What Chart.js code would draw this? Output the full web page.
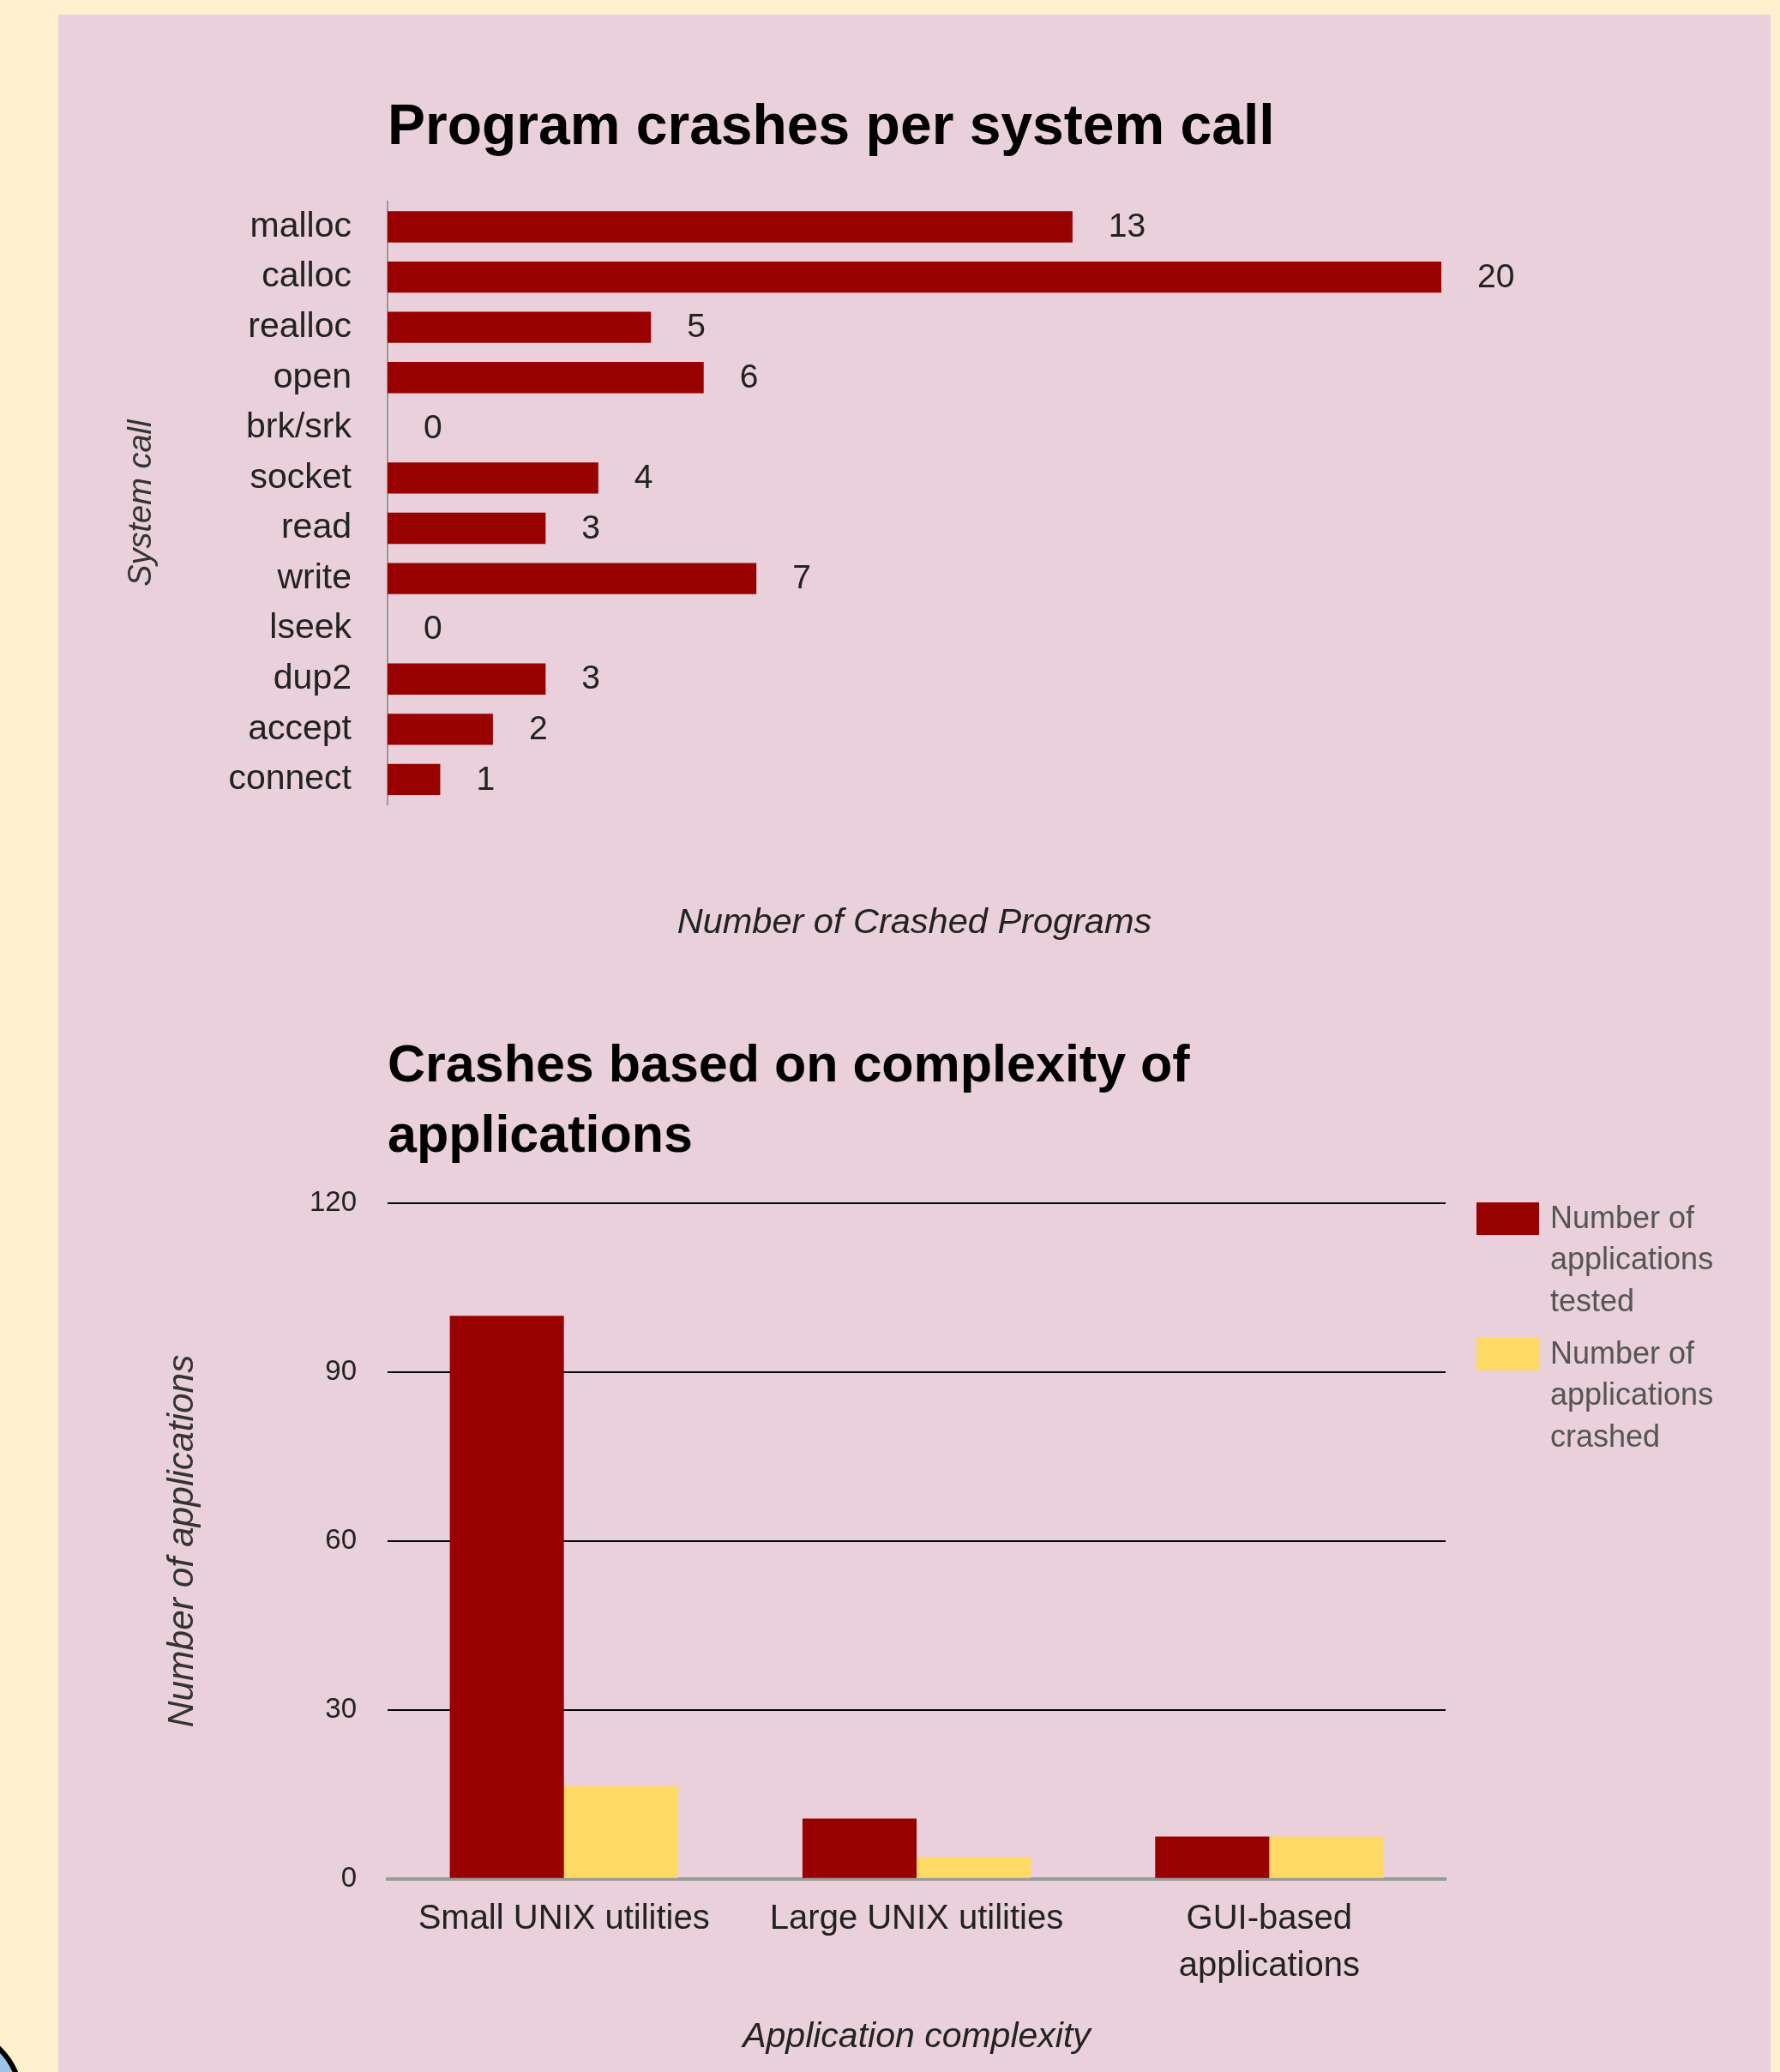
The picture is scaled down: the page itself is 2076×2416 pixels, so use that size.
<!DOCTYPE html>
<html>
<head>
<meta charset="utf-8">
<script src="https://cdn.jsdelivr.net/npm/chart.js@4.4.0/dist/chart.umd.min.js"></script>
<style>
  body { margin: 0; width: 2076px; height: 2416px; overflow: hidden; position: relative; background: #FFF1CE; }
  #panel { position: absolute; left: 68px; top: 17px; width: 1997px; height: 2399px; background: #E9D0DB; }
  #crashChart { position: absolute; left: 0; top: 0; }
  #complexChart { position: absolute; left: 0; top: 1160px; }
  #corner { position: absolute; left: -148px; top: 2362px; width: 176px; height: 176px; box-sizing: border-box;
            border: 6px solid #000; border-radius: 50%; background: #9DC3E6; }
</style>
</head>
<body>
<div id="panel"></div>
<div id="corner"></div>
<canvas id="crashChart" width="2076" height="1160"></canvas>
<canvas id="complexChart" width="2076" height="1256"></canvas>
<script>
// top chart data
const sysCalls = ['malloc', 'calloc', 'realloc', 'open', 'brk/srk', 'socket', 'read', 'write', 'lseek', 'dup2', 'accept', 'connect'];
const crashCounts = [13, 20, 5, 6, 0, 4, 3, 7, 0, 3, 2, 1];

// bottom chart data
const appGroups = [['Small UNIX utilities'], ['Large UNIX utilities'], ['GUI-based', 'applications']];
const seriesNames = ['Number of applications tested', 'Number of applications crashed'];
const testedCounts = [100, 10.7, 7.5];
const crashedCounts = [16.5, 3.9, 7.5];
const yTicks = [0, 30, 60, 90, 120];

const FONT = '"Liberation Sans", Arial, sans-serif';
Chart.defaults.font.family = FONT;
Chart.defaults.color = '#222';

const darkRed = '#990000';
const yellow = '#FFD966';

// value next to each horizontal bar
const barValueLabels = {
  id: 'barValueLabels',
  afterDatasetsDraw(chart) {
    const ctx = chart.ctx;
    const meta = chart.getDatasetMeta(0);
    ctx.save();
    ctx.font = '39px ' + FONT;
    ctx.fillStyle = '#222';
    ctx.textBaseline = 'middle';
    ctx.textAlign = 'left';
    meta.data.forEach(function(bar, i) {
      ctx.fillText(String(chart.data.datasets[0].data[i]), bar.x + 42, bar.y + 1);
    });
    ctx.restore();
  }
};

// legend on the right with wrapped text
const sideLegend = {
  id: 'sideLegend',
  afterDraw(chart) {
    const ctx = chart.ctx;
    const top = chart.chartArea.top - 1;
    const x0 = 1722;
    ctx.save();
    ctx.font = '36px ' + FONT;
    ctx.textBaseline = 'middle';
    ctx.textAlign = 'left';
    chart.data.datasets.forEach(function(ds, i) {
      const y0 = top + i * 158;
      ctx.fillStyle = ds.backgroundColor;
      ctx.fillRect(x0, y0, 73, 38);
      // wrap words
      const words = ds.label.split(' ');
      const lines = [];
      let cur = '';
      words.forEach(function(w) {
        const test = cur ? cur + ' ' + w : w;
        if (ctx.measureText(test).width > 230 && cur) {
          lines.push(cur);
          cur = w;
        } else {
          cur = test;
        }
      });
      lines.push(cur);
      ctx.fillStyle = '#555';
      lines.forEach(function(line, k) {
        ctx.fillText(line, 1808, y0 + 20 + k * 48.5);
      });
    });
    ctx.restore();
  }
};

new Chart(document.getElementById('crashChart'), {
  type: 'bar',
  data: {
    labels: sysCalls,
    datasets: [{
      data: crashCounts,
      backgroundColor: darkRed,
      barPercentage: 0.62,
      categoryPercentage: 1
    }]
  },
  options: {
    indexAxis: 'y',
    responsive: false,
    animation: false,
    layout: { padding: { left: 120, right: 395, top: 0, bottom: 59 } },
    plugins: {
      legend: { display: false },
      tooltip: { enabled: false },
      title: {
        display: true,
        text: 'Program crashes per system call',
        align: 'start',
        fullSize: false,
        color: '#000',
        font: { size: 66, weight: 'bold', lineHeight: 1.2 },
        padding: { top: 110, bottom: 46 }
      }
    },
    scales: {
      x: {
        min: 0,
        max: 20,
        ticks: { display: false },
        grid: { display: false, drawTicks: false },
        border: { display: false },
        title: {
          display: true,
          text: 'Number of Crashed Programs',
          color: '#222',
          font: { size: 41.5, style: 'italic', lineHeight: 1.2 },
          padding: { top: 113, bottom: 0 }
        }
      },
      y: {
        ticks: { color: '#222', font: { size: 41 }, padding: 42 },
        grid: { display: false, drawTicks: false },
        border: { display: true, color: '#9a9a9a', width: 2 },
        title: {
          display: true,
          text: 'System call',
          color: '#333',
          font: { size: 38, style: 'italic', lineHeight: 1.2 },
          padding: { top: 23, bottom: 0 }
        },
        afterFit: function(scale) { scale.width = 332; }
      }
    }
  },
  plugins: [barValueLabels]
});

new Chart(document.getElementById('complexChart'), {
  type: 'bar',
  data: {
    labels: appGroups,
    datasets: [
      { label: seriesNames[0], data: testedCounts, backgroundColor: darkRed, barPercentage: 1, categoryPercentage: 0.647 },
      { label: seriesNames[1], data: crashedCounts, backgroundColor: yellow, barPercentage: 1, categoryPercentage: 0.647 }
    ]
  },
  options: {
    responsive: false,
    animation: false,
    layout: { padding: { left: 170, right: 390, top: 0, bottom: 16 } },
    plugins: {
      legend: { display: false },
      tooltip: { enabled: false },
      title: {
        display: true,
        text: ['Crashes based on complexity of', 'applications'],
        align: 'start',
        fullSize: false,
        color: '#000',
        font: { size: 61, weight: 'bold', lineHeight: '82px' },
        padding: { top: 43, bottom: 36 }
      }
    },
    scales: {
      x: {
        z: 1,
        ticks: { color: '#222', font: { size: 40, lineHeight: '55px' }, padding: 20, maxRotation: 0 },
        grid: { display: false, drawTicks: false },
        border: { display: true, color: '#9a9a9a', width: 4 },
        title: {
          display: true,
          text: 'Application complexity',
          color: '#222',
          font: { size: 41, style: 'italic', lineHeight: 1.2 },
          padding: { top: 10, bottom: 0 }
        }
      },
      y: {
        min: 0,
        max: 120,
        afterBuildTicks: function(scale) { scale.ticks = yTicks.map(function(v) { return { value: v }; }); },
        ticks: { color: '#222', font: { size: 33 }, padding: 36 },
        grid: {
          drawTicks: false,
          color: function(c) { return c.tick && c.tick.value === 0 ? 'rgba(0,0,0,0)' : '#000'; },
          lineWidth: 2
        },
        border: { display: false },
        title: {
          display: true,
          text: 'Number of applications',
          color: '#333',
          font: { size: 42.5, style: 'italic', lineHeight: 1.2 },
          padding: { top: 18, bottom: 0 }
        },
        afterFit: function(scale) { scale.width = 282; }
      }
    }
  },
  plugins: [sideLegend]
});
</script>
</body>
</html>
